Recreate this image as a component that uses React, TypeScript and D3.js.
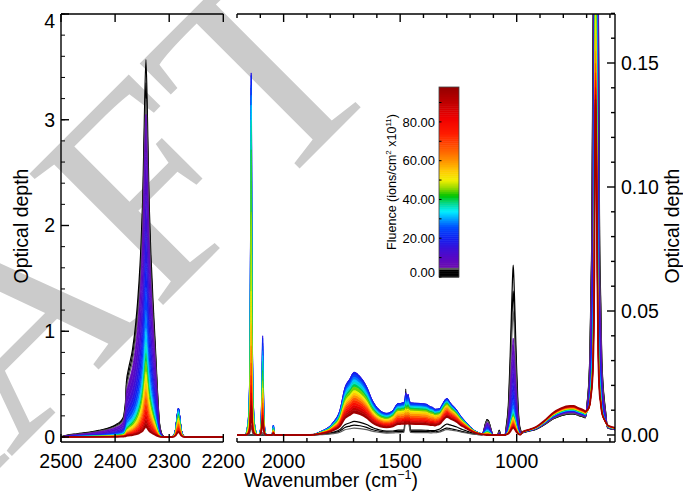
import React from 'react';
import * as d3 from 'd3';

const W = 683;
const H = 495;

// Fluence of each spectrum (x1e11 ions/cm2)
const fluence = [0, 1.5, 4.5, 6, 8, 11, 14, 17, 20, 24, 28, 32, 36, 40, 45, 50, 55, 60, 66, 72, 78, 84, 90, 96];

// ---------- Left panel (CO2 stretch) : band profiles [wavenumber, relative] ----------
const co2BroadProfile: [number, number][] = [
  [2500, 0], [2490, 0.016], [2470, 0.032], [2450, 0.046], [2430, 0.066], [2410, 0.095], [2398, 0.125],
  [2390, 0.155], [2384, 0.19], [2381, 0.3], [2379, 0.5], [2375, 0.6], [2368, 0.7], [2362, 0.82],
  [2356, 0.92], [2350, 0.98], [2346, 1], [2343, 1], [2340, 0.98], [2336, 0.92], [2332, 0.82],
  [2326, 0.62], [2322, 0.36], [2318, 0.1], [2314, 0.02], [2308, 0],
];
const co2CoreProfile: [number, number][] = [
  [2390, 0], [2382, 0.01], [2375, 0.03], [2368, 0.06], [2362, 0.11], [2356, 0.22], [2352, 0.35],
  [2349, 0.5], [2346, 0.78], [2343, 1], [2340, 0.78], [2337, 0.5], [2334, 0.35], [2330, 0.22],
  [2326, 0.12], [2322, 0.05], [2318, 0.015], [2312, 0],
];
const c13o2Profile: [number, number][] = [
  [2296, 0], [2291, 0.08], [2288, 0.3], [2285.5, 0.72], [2283, 1], [2280.5, 0.72], [2278, 0.3], [2275, 0.08], [2270, 0],
];
const co2BroadAmp = [0.95, 0.88, 0.82, 0.74, 0.62, 0.5, 0.41, 0.34, 0.29, 0.24, 0.2, 0.17, 0.15, 0.13, 0.11, 0.095, 0.08, 0.068, 0.056, 0.046, 0.037, 0.03, 0.024, 0.018];
const co2CoreAmp = [2.62, 2.47, 2.38, 2.31, 2.08, 1.8, 1.54, 1.31, 1.13, 0.96, 0.83, 0.73, 0.65, 0.59, 0.51, 0.445, 0.38, 0.322, 0.264, 0.214, 0.173, 0.135, 0.106, 0.082];
const c13o2Amp = [0.25, 0.25, 0.255, 0.26, 0.265, 0.27, 0.272, 0.272, 0.27, 0.265, 0.255, 0.24, 0.225, 0.205, 0.185, 0.165, 0.145, 0.125, 0.105, 0.088, 0.073, 0.062, 0.054, 0.048];

// ---------- Right panel : band profiles ----------
const coProfile: [number, number][] = [
  [2165, 0], [2156, 0.02], [2150, 0.06], [2145, 0.2], [2142, 0.55], [2139, 1], [2136, 0.55], [2133, 0.2], [2128, 0.06], [2122, 0.02], [2112, 0],
];
const b2090Profile: [number, number][] = [
  [2108, 0], [2100, 0.05], [2095, 0.3], [2092, 0.75], [2090, 1], [2088, 0.75], [2085, 0.3], [2080, 0.05], [2073, 0],
];
const b2044Profile: [number, number][] = [[2050, 0], [2044, 1], [2038, 0]];
const b1700Profile: [number, number][] = [
  [1887, 0], [1844, 0.05], [1788, 0.2], [1758, 0.4], [1737, 0.75], [1715, 0.9], [1698, 1], [1672, 0.93],
  [1644, 0.77], [1617, 0.53], [1587, 0.3], [1558, 0.14], [1531, 0.05], [1500, 0],
];
const b1450Profile: [number, number][] = [
  [1620, 0], [1600, 0.08], [1587, 0.18], [1558, 0.4], [1531, 0.67], [1509, 0.95], [1490, 1], [1460, 1],
  [1420, 0.98], [1390, 0.96], [1370, 0.88], [1359, 0.8], [1340, 0.6], [1320, 0.4], [1300, 0.22],
  [1280, 0.1], [1257, 0.05], [1230, 0.02], [1200, 0],
];
const b1300Profile: [number, number][] = [
  [1370, 0], [1350, 0.1], [1330, 0.35], [1315, 0.7], [1305, 0.92], [1299, 1], [1290, 0.97], [1275, 0.9],
  [1257, 0.78], [1240, 0.6], [1215, 0.4], [1195, 0.24], [1172, 0.11], [1150, 0.04], [1130, 0],
];
const spikeProfile: [number, number][] = [
  [1485, 0], [1479, 0.4], [1476, 1], [1473, 0.45], [1470, 0.55], [1466, 0.85], [1462, 0.35], [1456, 0],
];
const b1128Profile: [number, number][] = [
  [1148, 0], [1141, 0.3], [1134, 0.75], [1128, 1], [1122, 0.95], [1116, 0.7], [1109, 0.3], [1102, 0],
];
const b1075Profile: [number, number][] = [[1082, 0], [1075, 1], [1068, 0]];
const b1015Profile: [number, number][] = [
  [1050, 0], [1045, 0.05], [1035, 0.2], [1029, 0.42], [1023, 0.7], [1018, 0.92], [1015, 1], [1012, 0.92],
  [1007, 0.7], [1001, 0.42], [995, 0.2], [987, 0.05], [977, 0],
];
const humpProfile: [number, number][] = [
  [985, 0], [972, 0.12], [950, 0.18], [914, 0.29], [880, 0.5], [843, 0.77], [810, 0.92], [771, 1],
  [757, 1], [735, 0.93], [714, 0.86], [697, 0.78], [680, 0.72], [660, 0.62], [640, 0.5], [620, 0.38],
  [600, 0.3], [578, 0.25],
];
const b660Profile: [number, number][] = [
  [705, 0], [695, 0.01], [686, 0.03], [678, 0.08], [671, 0.2], [667, 0.45], [665, 0.75], [663, 0.95],
  [662, 1], [660, 0.95], [657, 0.75], [654, 0.45], [650, 0.2], [644, 0.08], [635, 0.03], [622, 0.01], [610, 0],
];

const coAmp = [0, 0, 0.004, 0.06, 0.095, 0.125, 0.14, 0.146, 0.145, 0.141, 0.137, 0.133, 0.127, 0.115, 0.09, 0.058, 0.045, 0.036, 0.029, 0.024, 0.02, 0.017, 0.014, 0.012];
const b2090Amp = [0, 0, 0.001, 0.012, 0.022, 0.031, 0.037, 0.04, 0.039, 0.036, 0.034, 0.032, 0.03, 0.026, 0.022, 0.019, 0.017, 0.015, 0.013, 0.011, 0.009, 0.008, 0.007, 0.006];
const b2044Amp = [0, 0, 0, 0.001, 0.002, 0.003, 0.0035, 0.004, 0.004, 0.0038, 0.0035, 0.003, 0.0028, 0.0025, 0.0022, 0.002, 0.0018, 0.0016, 0.0014, 0.0012, 0.001, 0.0009, 0.0008, 0.0007];
const b1700Amp = [0.0055, 0.004, 0.0028, 0.02, 0.024, 0.0252, 0.0253, 0.0253, 0.0245, 0.0235, 0.0225, 0.0215, 0.0205, 0.0195, 0.018, 0.017, 0.016, 0.015, 0.014, 0.013, 0.012, 0.011, 0.01, 0.009];
const b1450Amp = [0.002, 0.0015, 0.001, 0.0095, 0.0115, 0.0125, 0.013, 0.013, 0.0128, 0.0122, 0.0118, 0.0115, 0.011, 0.0105, 0.0099, 0.0093, 0.0086, 0.0078, 0.0071, 0.0065, 0.006, 0.0055, 0.005, 0.0045];
const b1300Amp = [0.004, 0.0025, 0.002, 0.009, 0.0108, 0.0116, 0.012, 0.012, 0.0118, 0.0115, 0.0112, 0.011, 0.0108, 0.0105, 0.01, 0.0095, 0.0092, 0.0088, 0.0084, 0.008, 0.0075, 0.0071, 0.0067, 0.0064];
const spikeAmp = [0.0165, 0.012, 0.009, 0.006, 0.005, 0.0045, 0.004, 0.0038, 0.0035, 0.003, 0.0025, 0.002, 0.0016, 0.0013, 0.001, 0.0008, 0.0006, 0.0005, 0.0004, 0.0003, 0.0002, 0.0002, 0.0001, 0.0001];
const b1128Amp = [0.0062, 0.006, 0.0057, 0.005, 0.0045, 0.004, 0.0035, 0.003, 0.0027, 0.0023, 0.002, 0.0017, 0.0014, 0.0012, 0.001, 0.0008, 0.0006, 0.0005, 0.0004, 0.0003, 0.0002, 0.0001, 0, 0];
const b1075Amp = [0.002, 0.0018, 0.0015, 0.001, 0.0008, 0.0006, 0.0005, 0.0004, 0.0003, 0.0002, 0.0002, 0.0001, 0.0001, 0, 0, 0, 0, 0, 0, 0, 0, 0, 0, 0];
const b1015Amp = [0.0685, 0.058, 0.05, 0.039, 0.033, 0.027, 0.0215, 0.0175, 0.0145, 0.0122, 0.0106, 0.0096, 0.0088, 0.008, 0.0075, 0.007, 0.0062, 0.0056, 0.005, 0.0045, 0.004, 0.0036, 0.0033, 0.003];
const humpAmp = [0.0085, 0.0085, 0.0087, 0.009, 0.0092, 0.0094, 0.0095, 0.0096, 0.0097, 0.0098, 0.0099, 0.01, 0.0102, 0.0103, 0.0105, 0.0106, 0.0108, 0.0109, 0.011, 0.0112, 0.0113, 0.0114, 0.0116, 0.0117];
const b660Amp = [0.9, 0.85, 0.8, 0.7, 0.6, 0.5, 0.42, 0.36, 0.32, 0.28, 0.25, 0.23, 0.215, 0.19, 0.175, 0.165, 0.155, 0.148, 0.143, 0.139, 0.136, 0.133, 0.13, 0.128];

// ---------- Axes ticks ----------
const leftXTicks = [2500, 2400, 2300, 2200];
const leftYTicks = [0, 1, 2, 3, 4];
const rightXMajor = [2000, 1500, 1000];
const rightYTicks = [0, 0.05, 0.1, 0.15];
const cbTicks = [0, 20, 40, 60, 80];

// ---------- Colour table (fluence -> colour) ----------
const cmapStops = [0, 4.3, 4.6, 5.2, 10, 15, 20, 26, 31, 34, 38, 42, 46, 50, 55, 60, 66, 74, 82, 90, 100];
const cmapColors = ['#000000', '#000000', '#8a8a8a', '#6c0cb0', '#5808c4', '#3a10d8', '#1020f0', '#0050ff', '#00b4ff', '#00f0ff', '#00d890', '#00c400', '#94d800', '#f0f000', '#ffc800', '#ff9400', '#ff5c00', '#ff1c00', '#f00000', '#c00000', '#8a0000'];
const cmap = d3.scaleLinear<string>().domain(cmapStops).range(cmapColors).interpolate(d3.interpolateRgb).clamp(true);

type Band = { profile: [number, number][]; amp: number[] };
type Pt = { nu: number; v: number };

function profileAt(p: [number, number][], nu: number): number {
  if (nu > p[0][0] || nu < p[p.length - 1][0]) return 0;
  for (let i = 0; i < p.length - 1; i++) {
    const [n0, v0] = p[i];
    const [n1, v1] = p[i + 1];
    if (nu <= n0 && nu >= n1) {
      const t = n0 === n1 ? 0 : (n0 - nu) / (n0 - n1);
      return v0 + (v1 - v0) * t;
    }
  }
  return 0;
}

function buildSpectra(bands: Band[], hi: number, lo: number): Pt[][] {
  const keys = new Set<number>([hi, lo]);
  bands.forEach((b) => b.profile.forEach((d) => keys.add(d[0])));
  const grid = Array.from(keys).filter((n) => n <= hi && n >= lo).sort((a, b) => b - a);
  return fluence.map((_, k) => grid.map((nu) => ({ nu, v: d3.sum(bands, (b) => b.amp[k] * profileAt(b.profile, nu)) })));
}

const leftBands: Band[] = [
  { profile: co2BroadProfile, amp: co2BroadAmp },
  { profile: co2CoreProfile, amp: co2CoreAmp },
  { profile: c13o2Profile, amp: c13o2Amp },
];
const rightBands: Band[] = [
  { profile: coProfile, amp: coAmp },
  { profile: b2090Profile, amp: b2090Amp },
  { profile: b2044Profile, amp: b2044Amp },
  { profile: b1700Profile, amp: b1700Amp },
  { profile: b1450Profile, amp: b1450Amp },
  { profile: b1300Profile, amp: b1300Amp },
  { profile: spikeProfile, amp: spikeAmp },
  { profile: b1128Profile, amp: b1128Amp },
  { profile: b1075Profile, amp: b1075Amp },
  { profile: b1015Profile, amp: b1015Amp },
  { profile: humpProfile, amp: humpAmp },
  { profile: b660Profile, amp: b660Amp },
];

function Spectra({ spectra, x, y }: { spectra: Pt[][]; x: d3.ScaleLinear<number, number>; y: d3.ScaleLinear<number, number> }) {
  const line = d3.line<Pt>().x((d) => x(d.nu)).y((d) => y(d.v)).curve(d3.curveMonotoneX);
  const area = d3
    .area<{ nu: number; v0: number; v1: number }>()
    .x((d) => x(d.nu))
    .y0((d) => y(d.v0))
    .y1((d) => y(d.v1))
    .curve(d3.curveMonotoneX);
  const els: React.ReactNode[] = [];
  const last = spectra.length - 1;
  spectra.forEach((s, k) => {
    const c = cmap(fluence[k]);
    if (k >= 4) {
      const prev = spectra[k - 1];
      const pts = s.map((p, i) => ({ nu: p.nu, v0: prev[i].v, v1: p.v }));
      els.push(<path key={'a' + k} d={area(pts) || ''} fill={c} stroke="none" />);
    }
    const sw = k < 3 ? 1.2 : k === last ? 1.8 : 0.9;
    els.push(<path key={'l' + k} d={line(s) || ''} fill="none" stroke={c} strokeWidth={sw} />);
  });
  return <g>{els}</g>;
}

const FONT = "'Liberation Sans', Arial, Helvetica, sans-serif";

export default function App() {
  const top = 14;
  const bottom = 442;
  const xL = d3.scaleLinear().domain([2500, 2200]).range([61, 223.3]);
  const yL = d3.scaleLinear().domain([0, 4]).range([437, 14]);
  const xR = d3.scaleLinear().domain([2200, 1000]).range([237, 516.7]);
  const yR = d3.scaleLinear().domain([0, 0.15]).range([435, 63]);
  const rightEnd = 615;
  const cbY = d3.scaleLinear().domain([0, 98]).range([277, 87]);
  const cbX0 = 439;
  const cbX1 = 459;

  const leftSpectra = buildSpectra(leftBands, 2500, 2200);
  const rightSpectra = buildSpectra(rightBands, 2200, 578);

  const leftYMinor = d3.range(0, 4.001, 0.2);
  const rightXMinor = d3.range(2200, 577, -100);
  const rightYMinor = d3.range(0, 0.1701, 0.01);
  const cbMinor = d3.range(10, 91, 20);
  const cbSteps = d3.range(0, 98, 1);

  const axisStroke = 1.4;
  const MAJ = 8;
  const MIN = 4;

  return (
    <svg width={W} height={H} style={{ position: 'absolute', left: 0, top: 0, background: '#fff' }} fontFamily={FONT}>
      <defs>
        <clipPath id="clipL">
          <rect x={61} y={top} width={223.3 - 61} height={bottom - top} />
        </clipPath>
        <clipPath id="clipR">
          <rect x={237} y={top} width={rightEnd - 237} height={bottom - top} />
        </clipPath>
      </defs>
      <rect x={0} y={0} width={W} height={H} fill="#fff" />

      {/* watermark */}
      <text
        transform="translate(392,76) rotate(-45)"
        textAnchor="end"
        fontFamily="'Liberation Serif', 'Times New Roman', serif"
        fontSize={286}
        fill="#cbcbcb"
      >
        DRAFT
      </text>

      {/* spectra */}
      <g clipPath="url(#clipL)">
        <Spectra spectra={leftSpectra} x={xL} y={yL} />
      </g>
      <g clipPath="url(#clipR)">
        <Spectra spectra={rightSpectra} x={xR} y={yR} />
      </g>

      {/* left panel frame */}
      <g stroke="#000" strokeWidth={axisStroke} fill="none">
        <line x1={61} x2={61} y1={top} y2={bottom} />
        <line x1={61} x2={223.3} y1={top} y2={top} />
        <line x1={61} x2={223.3} y1={bottom} y2={bottom} />
        {leftXTicks.map((t) => (
          <g key={'lx' + t}>
            <line x1={xL(t)} x2={xL(t)} y1={bottom} y2={bottom - MAJ} />
            <line x1={xL(t)} x2={xL(t)} y1={top} y2={top + MAJ} />
          </g>
        ))}
        {leftYMinor.map((t) => (
          <line key={'lym' + t} x1={61} x2={61 + MIN} y1={yL(t)} y2={yL(t)} strokeWidth={1} />
        ))}
        {leftYTicks.map((t) => (
          <line key={'ly' + t} x1={61} x2={61 + MAJ} y1={yL(t)} y2={yL(t)} />
        ))}
      </g>

      {/* right panel frame */}
      <g stroke="#000" strokeWidth={axisStroke} fill="none">
        <line x1={237} x2={rightEnd} y1={top} y2={top} />
        <line x1={237} x2={rightEnd} y1={bottom} y2={bottom} />
        <line x1={rightEnd} x2={rightEnd} y1={top} y2={bottom} />
        {rightXMinor.map((t) => {
          const len = rightXMajor.includes(t) ? MAJ : MIN;
          return (
            <g key={'rx' + t}>
              <line x1={xR(t)} x2={xR(t)} y1={bottom} y2={bottom - len} />
              <line x1={xR(t)} x2={xR(t)} y1={top} y2={top + len} />
            </g>
          );
        })}
        {rightYMinor.map((t, i) => (
          <line key={'rym' + i} x1={rightEnd} x2={rightEnd - (i % 5 === 0 ? MAJ : MIN)} y1={yR(t)} y2={yR(t)} />
        ))}
      </g>

      {/* tick labels */}
      <g fontSize={19.5} fill="#000">
        {leftXTicks.map((t) => (
          <text key={'lxl' + t} x={xL(t)} y={468} textAnchor="middle">
            {t}
          </text>
        ))}
        {rightXMajor.map((t) => (
          <text key={'rxl' + t} x={xR(t)} y={468} textAnchor="middle">
            {t}
          </text>
        ))}
        {leftYTicks.map((t) => (
          <text key={'lyl' + t} x={55} y={Math.max(yL(t), 20.8) + 6.8} textAnchor="end">
            {t}
          </text>
        ))}
        {rightYTicks.map((t) => (
          <text key={'ryl' + t} x={621} y={yR(t) + 6.8} textAnchor="start">
            {d3.format('.2f')(t)}
          </text>
        ))}
        <text transform="translate(28,226) rotate(-90)" textAnchor="middle">
          Optical depth
        </text>
        <text transform="translate(679,226) rotate(-90)" textAnchor="middle">
          Optical depth
        </text>
        <text x={331} y={487} textAnchor="middle">
          Wavenumber (cm
          <tspan fontSize={12.5} dy={-8}>
            −1
          </tspan>
          <tspan dy={8}>)</tspan>
        </text>
      </g>

      {/* colour bar */}
      <g>
        {cbSteps.map((f) => (
          <rect key={'cb' + f} x={cbX0} y={cbY(f + 1)} width={cbX1 - cbX0} height={cbY(f) - cbY(f + 1) + 0.5} fill={cmap(f + 0.5)} />
        ))}
        <rect x={cbX0} y={cbY(98)} width={cbX1 - cbX0} height={cbY(0) - cbY(98)} fill="none" stroke="#444" strokeWidth={0.8} />
        {cbTicks.concat(cbMinor).map((t) => (
          <line key={'cbt' + t} x1={cbX0} x2={cbX0 + 2.5} y1={cbY(t)} y2={cbY(t)} stroke="#000" strokeWidth={1} />
        ))}
        <g fontSize={13} fill="#000">
          {cbTicks.map((t) => (
            <text key={'cbl' + t} x={435} y={Math.min(cbY(t), 272) + 4.7} textAnchor="end">
              {d3.format('.2f')(t)}
            </text>
          ))}
          <text transform="translate(396,182) rotate(-90)" textAnchor="middle" fontSize={12.5}>
            Fluence (ions/cm
            <tspan fontSize={8} dy={-5}>
              2
            </tspan>
            <tspan dy={5}> x10</tspan>
            <tspan fontSize={8} dy={-5}>
              11
            </tspan>
            <tspan dy={5}>)</tspan>
          </text>
        </g>
      </g>
    </svg>
  );
}
